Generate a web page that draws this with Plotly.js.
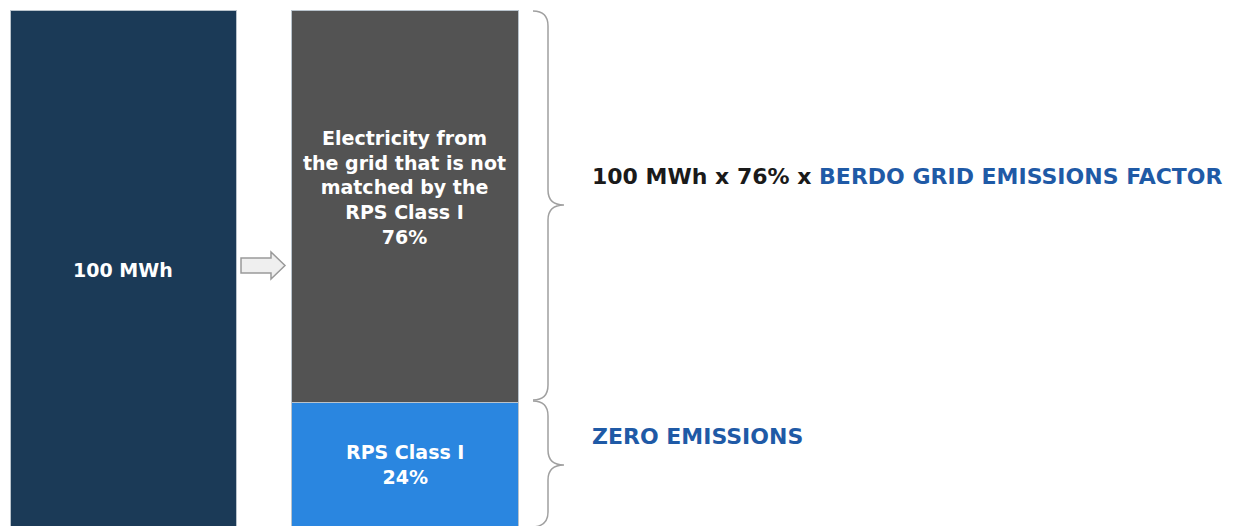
<!DOCTYPE html>
<html>
<head>
<meta charset="utf-8">
<script src="https://cdn.plot.ly/plotly-3.0.1.min.js"></script>
<style>html,body{margin:0;padding:0;background:#fff;}#chart{width:1243px;height:526px;}</style>
</head>
<body>
<div id="chart"></div>
<script>
// ---- data ----
const categories = ["Total", "Split"];
const totalLabel = "100 MWh";
const totalValue = [100];
const rpsValue = [24];
const gridValue = [76];
const gridLabel = "Electricity from<br>the grid that is not<br>matched by the<br>RPS Class I<br>76%";
const rpsLabel = "RPS Class I<br>24%";
const gridFormulaDark = "100 MWh x 76% x ";
const gridFormulaBlue = "BERDO GRID EMISSIONS FACTOR";
const rpsFormula = "ZERO EMISSIONS";

// ---- layout helpers ----
const W = 1243, H = 526;
const px = x => (x / W).toFixed(5);
const py = y => (1 - y / H).toFixed(5);
function pathFrom(cmds) {
  return cmds.map(c => {
    const [op, ...pts] = c;
    let s = op;
    for (let i = 0; i < pts.length; i += 2) s += (i ? ' ' : '') + px(pts[i]) + ',' + py(pts[i + 1]);
    return s;
  }).join(' ');
}

const barW = 0.806;
const lineStyle = {color: '#b9c3cc', width: 1};
const font = "'DejaVu Sans', sans-serif";

const traces = [
  {type: 'bar', x: [categories[0]], y: totalValue, width: barW,
   marker: {color: '#1b3a57', line: lineStyle}, hoverinfo: 'skip'},
  {type: 'bar', x: [categories[1]], y: rpsValue, width: barW,
   marker: {color: '#2a86e0', line: lineStyle}, hoverinfo: 'skip'},
  {type: 'bar', x: [categories[1]], y: gridValue, width: barW,
   marker: {color: '#535353', line: lineStyle}, hoverinfo: 'skip'}
];

const braceTop = pathFrom([
  ['M', 533, 11], ['Q', 548, 11, 548, 26], ['L', 548, 190], ['Q', 548, 205, 564, 205],
  ['Q', 548, 205, 548, 220], ['L', 548, 385], ['Q', 548, 400, 533, 400]
]);
const braceBot = pathFrom([
  ['M', 533, 401], ['Q', 548, 401, 548, 416], ['L', 548, 450], ['Q', 548, 465, 564, 465],
  ['Q', 548, 465, 548, 480], ['L', 548, 512], ['Q', 548, 526, 533, 527]
]);
const arrow = pathFrom([
  ['M', 241, 258], ['L', 271, 258], ['L', 271, 252], ['L', 285, 265.5], ['L', 271, 279],
  ['L', 271, 273], ['L', 241, 273], ['Z']
]);

const layout = {
  width: W, height: H,
  margin: {l: 0, r: 0, t: 0, b: 0},
  paper_bgcolor: '#ffffff', plot_bgcolor: '#ffffff',
  barmode: 'stack', showlegend: false,
  xaxis: {type: 'category', range: [-0.4387, 3.977], visible: false, fixedrange: true},
  yaxis: {range: [0, 101.94], visible: false, fixedrange: true},
  shapes: [
    {type: 'path', xref: 'paper', yref: 'paper', path: braceTop, line: {color: '#a0a0a0', width: 1.5}},
    {type: 'path', xref: 'paper', yref: 'paper', path: braceBot, line: {color: '#a0a0a0', width: 1.5}},
    {type: 'path', xref: 'paper', yref: 'paper', path: arrow, fillcolor: '#efefef', line: {color: '#9a9a9a', width: 1.5}}
  ],
  annotations: [
    {x: categories[0], y: totalValue[0] / 2, xref: 'x', yref: 'y', text: '<b>' + totalLabel + '</b>',
     showarrow: false, yshift: -2, font: {family: font, size: 19, color: '#ffffff'}},
    {x: categories[1], y: rpsValue[0] + gridValue[0] / 2, xref: 'x', yref: 'y', text: '<b>' + gridLabel + '</b>',
     showarrow: false, yshift: 19, font: {family: font, size: 19, color: '#ffffff'}},
    {x: categories[1], y: rpsValue[0] / 2, xref: 'x', yref: 'y', text: '<b>' + rpsLabel + '</b>',
     showarrow: false, yshift: 0, font: {family: font, size: 19, color: '#ffffff'}},
    {x: 590 / W, y: 1 - 176 / H, xref: 'paper', yref: 'paper', xanchor: 'left', yanchor: 'middle',
     text: '<b>' + gridFormulaDark + '<span style="color:#1f5aa6">' + gridFormulaBlue + '</span></b>',
     showarrow: false, font: {family: font, size: 22, color: '#1a1a1a'}},
    {x: 590 / W, y: 1 - 436 / H, xref: 'paper', yref: 'paper', xanchor: 'left', yanchor: 'middle',
     text: '<b>' + rpsFormula + '</b>',
     showarrow: false, font: {family: font, size: 22, color: '#1f5aa6'}}
  ]
};

Plotly.newPlot('chart', traces, layout, {displayModeBar: false, staticPlot: true});
</script>
</body>
</html>
